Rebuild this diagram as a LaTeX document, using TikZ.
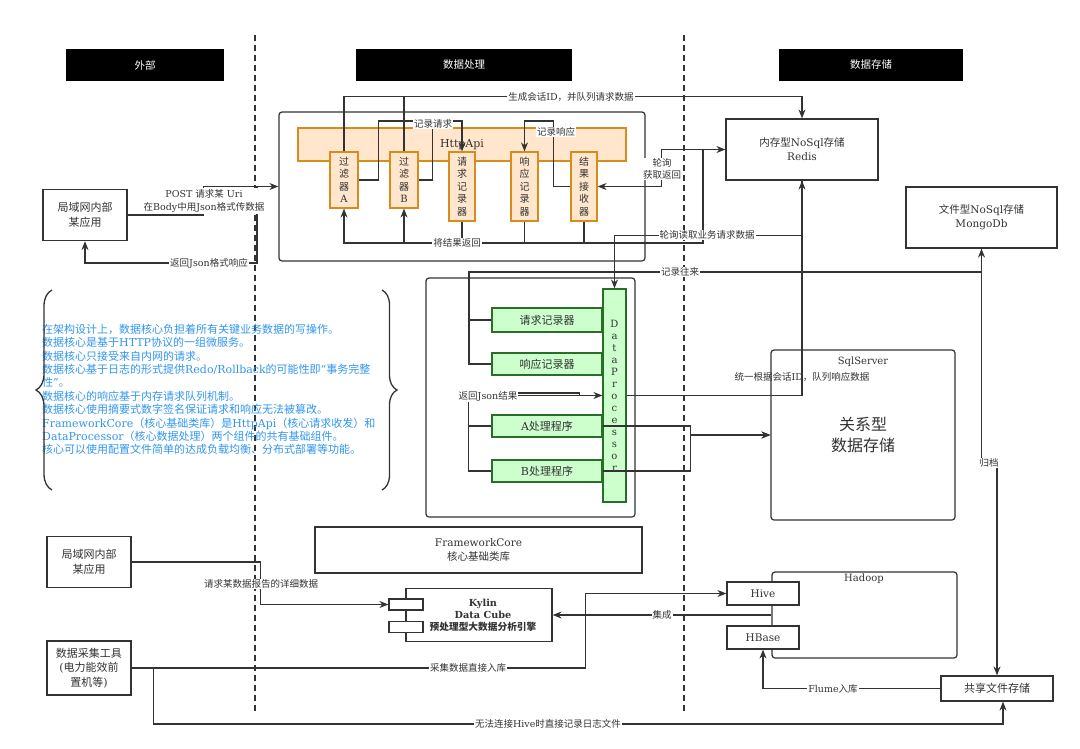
\documentclass[tikz,border=0pt]{standalone}
\usepackage{fontspec}
\setmainfont{DejaVu Serif}
\newfontfamily\cjkfont{Noto Sans CJK SC}
\usetikzlibrary{arrows.meta, positioning, decorations.pathreplacing}

% Chinese characters switch to the CJK family
\XeTeXinterchartokenstate=1
\newXeTeXintercharclass\cjkclass
\newcount\cjkcode
\def\setcjkrange#1#2{\cjkcode=#1\relax
  \loop\ifnum\cjkcode<#2\relax
    \XeTeXcharclass\cjkcode=\cjkclass
    \advance\cjkcode by 1
  \repeat}
\setcjkrange{"3000}{"3040}
\setcjkrange{"4E00}{"A000}
\setcjkrange{"FF00}{"FFF0}
\XeTeXinterchartoks 0 \cjkclass = {\cjkfont}
\XeTeXinterchartoks 4095 \cjkclass = {\cjkfont}
\XeTeXinterchartoks \cjkclass 0 = {\rmfamily}
\XeTeXinterchartoks \cjkclass 4095 = {\rmfamily}

\definecolor{ink}{RGB}{51,51,51}
\definecolor{orfill}{RGB}{255,230,204}
\definecolor{ordraw}{RGB}{215,140,30}
\definecolor{grfill}{RGB}{204,255,204}
\definecolor{grdraw}{RGB}{40,110,40}
\definecolor{note}{RGB}{50,150,240}

\begin{document}
\begin{tikzpicture}[x=1pt, y=-1pt,
    >={Stealth[length=9pt, width=7pt]},
    hdr/.style={fill=black, text=white, minimum height=32, inner sep=0pt, font=\fontsize{10.5}{12}\selectfont},
    box/.style={draw=ink, line width=1.2pt, fill=white, align=center, inner sep=1pt, text=ink, font=\fontsize{10.5}{14}\selectfont},
    grp/.style={box, rounded corners=3pt},
    obox/.style={box, draw=ordraw, fill=orfill, font=\fontsize{10}{12.5}\selectfont},
    gbox/.style={box, draw=grdraw, fill=grfill, minimum width=110, minimum height=22, font=\fontsize{11}{13}\selectfont},
    lbl/.style={fill=white, inner sep=1pt, text=ink, align=center, font=\fontsize{9.5}{12}\selectfont},
    wire/.style={draw=ink, line width=1.1pt},
    conn/.style={wire, ->},
    sep/.style={draw=ink, line width=1.2pt, dash pattern=on 6pt off 4pt}
]
    \useasboundingbox[fill=white] (0,0) rectangle (1080,748);

    % Lane separators and headers
    \draw[sep] (255,35) -- (255,712);
    \draw[sep] (684,35) -- (684,712);
    \node[hdr, minimum width=158] (outer) at (145,65) {外部};
    \node[hdr, minimum width=216] (proc) at (464,65) {数据处理};
    \node[hdr, minimum width=184] (store) at (871,65) {数据存储};

    % External side
    \node[box, minimum width=84, minimum height=51, font=\fontsize{11}{15}\selectfont] (app1) at (85,215) {局域网内部\\某应用};
    \node[box, minimum width=84, minimum height=51, font=\fontsize{11}{15}\selectfont] (app2) at (89,562) {局域网内部\\某应用};
    \node[box, minimum width=84, minimum height=54, font=\fontsize{11}{14.5}\selectfont] (coll) at (89,668) {数据采集工具\\(电力能效前\\置机等)};

    % HttpApi
    \node[grp, minimum width=366, minimum height=149] (httpgrp) at (462,186.5) {};
    \node[obox, minimum width=328, minimum height=33, font=\fontsize{11}{13}\selectfont] (httpapi) at (462,144.5) {HttpApi};
    \node[obox, minimum width=28, minimum height=56] (fA) at (344,180) {过\\滤\\器\\A};
    \node[obox, minimum width=28, minimum height=56] (fB) at (404,180) {过\\滤\\器\\B};
    \node[obox, minimum width=26, minimum height=69] (reqrec) at (462,186.5) {请\\求\\记\\录\\器};
    \node[obox, minimum width=27, minimum height=69] (resrec) at (524.5,186.5) {响\\应\\记\\录\\器};
    \node[obox, minimum width=26, minimum height=69] (recv) at (584,186.5) {结\\果\\接\\收\\器};

    % DataProcessor
    \node[grp, minimum width=209, minimum height=239] (dpgrp) at (530.5,397.5) {};
    \node[gbox, minimum height=24] (reqlog) at (547,320) {请求记录器};
    \node[gbox] (reslog) at (547,364) {响应记录器};
    \node[gbox] (aproc) at (547,426) {A处理程序};
    \node[gbox] (bproc) at (547,471) {B处理程序};
    \node[box, draw=grdraw, fill=grfill, minimum width=23, minimum height=213, font=\fontsize{10}{12}\selectfont] (dp) at (614.5,395.5) {D\\a\\t\\a\\P\\r\\o\\c\\e\\s\\s\\o\\r};

    % Notes
    \node[anchor=west, align=left, inner sep=0pt, text=note, font=\fontsize{11}{13.4}\selectfont] (notes) at (42,389.5) {在架构设计上，数据核心负担着所有关键业务数据的写操作。\\数据核心是基于HTTP协议的一组微服务。\\数据核心只接受来自内网的请求。\\数据核心基于日志的形式提供Redo/Rollback的可能性即“事务完整\\性”。\\数据核心的响应基于内存请求队列机制。\\数据核心使用摘要式数字签名保证请求和响应无法被篡改。\\FrameworkCore（核心基础类库）是HttpApi（核心请求收发）和\\DataProcessor（核心数据处理）两个组件的共有基础组件。\\核心可以使用配置文件简单的达成负载均衡、分布式部署等功能。};
    \draw[ink, line width=1.3pt, decorate, decoration={brace, amplitude=16pt}] (52,490) -- (52,290);
    \draw[ink, line width=1.3pt, decorate, decoration={brace, amplitude=15pt}] (382,290) -- (382,490);

    % Storage
    \node[box, minimum width=152, minimum height=61] (redis) at (802,149.5) {内存型NoSql存储\\Redis};
    \node[box, minimum width=151, minimum height=61] (mongo) at (981.5,217.5) {文件型NoSql存储\\MongoDb};
    \node[grp, minimum width=184, minimum height=170, font=\fontsize{16}{21}\selectfont] (sql) at (863,435) {关系型\\数据存储};
    \node[text=ink, font=\fontsize{10}{12}\selectfont] (sqltitle) at (863,362) {SqlServer};

    % Lower row
    \node[box, minimum width=327, minimum height=46] (core) at (478.5,550) {FrameworkCore\\核心基础类库};
    \node[box, minimum width=146, minimum height=53] (kylin) at (479,615) {};
    \node[box, minimum width=34, minimum height=11] (port1) at (406,604.5) {};
    \node[box, minimum width=34, minimum height=11] (port2) at (406,627) {};
    \node[align=center, text=ink, font=\bfseries\fontsize{9.7}{12}\selectfont] (kylintext) at (483,615) {Kylin\\Data Cube\\预处理型大数据分析引擎};
    \node[grp, minimum width=185, minimum height=86] (hadoop) at (864.5,615) {};
    \node[text=ink, font=\fontsize{10}{12}\selectfont] (hadooptitle) at (864,579) {Hadoop};
    \node[box, minimum width=72, minimum height=23] (hive) at (763,593.5) {Hive};
    \node[box, minimum width=72, minimum height=23] (hbase) at (763,637.5) {HBase};
    \node[box, minimum width=112, minimum height=25, font=\fontsize{11}{13}\selectfont] (share) at (997,688.5) {共享文件存储};

    % Request and reply
    \coordinate (ret) at (257,187);
    \draw[conn] (app1.east) -- ++(76,0) |- (httpgrp.west);
    \draw[conn] (ret) -- (257,263) -| (app1.south);
    \node[lbl, font=\fontsize{9.5}{13}\selectfont] (postlbl) at (204,201) {POST 请求某 Uri\\在Body中用Json格式传数据};
    \node[lbl] (retlbl) at (209,263) {返回Json格式响应};

    % Inside HttpApi
    \draw[conn] (fA.north) -- ++(0,-55) -| (redis.north);
    \draw[wire] (fB.north) -- ++(0,-55);
    \node[lbl] (sesslbl) at (571,97) {生成会话ID，并队列请求数据};
    \draw[conn] (fA.east) -- ++(20,0) -- ++(0,-59) -| (reqrec.north);
    \draw[wire] (fB.east) -- ++(14,0) -- ++(0,-59);
    \node[lbl] (reqlbl) at (433,124) {记录请求};
    \draw[conn] (recv.west) -- ++(-17,0) -- ++(0,-65.5) -| (resrec.north);
    \node[lbl] (reslbl) at (556,132) {记录响应};
    \draw[wire, <->] (redis.west) -- ++(-64,0) |- (recv.east);
    \node[lbl] (polllbl) at (662,169) {轮询\\获取返回};
    \coordinate (bus) at (703,243);
    \draw[wire] (redis.west) -| (bus) -- (recv.south |- bus);
    \draw[wire] (reqrec.south) -- (reqrec.south |- bus);
    \draw[wire] (resrec.south) -- (resrec.south |- bus);
    \draw[conn] (recv.south) -- (recv.south |- bus) -| (fA.south);
    \draw[conn] (fB.south |- bus) -- (fB.south);
    \node[lbl] (backlbl) at (457,243) {将结果返回};

    % DataProcessor links
    \draw[conn] (redis.south) -- ++(0,55) -| (dp.north);
    \node[lbl] (readlbl) at (707,235) {轮询读取业务请求数据};
    \draw[conn] (dp.east) -| (redis.south);
    \node[lbl, fill=none] (queuelbl) at (802,377) {统一根据会话ID，队列响应数据};
    \coordinate (rec) at (469,272);
    \draw[conn] (reqlog.west) -| (rec) -| (mongo.south);
    \draw[wire] (reslog.west) -| (rec);
    \node[lbl] (loglbl) at (680,272) {记录往来};
    \draw[conn] (mongo.south) -- ++(0,215) -| (share.north);
    \node[lbl] (archlbl) at (989,463) {归档};
    \draw[conn] (aproc.west) -- ++(-23,0) |- (dp.west);
    \draw[wire] (bproc.west) -- ++(-23,0) -- ++(0,-78) -- ++(111,0) -- ++(0,3);
    \node[lbl] (jsonlbl) at (488,396) {返回Json结果};
    \draw[conn] (aproc.east) -- ++(88,0) |- (sql.west);
    \draw[conn] (bproc.east) -- ++(88,0) |- (sql.west);

    % Analysis and collection
    \draw[conn] (app2.east) -- ++(129,0) |- (port1.west);
    \node[lbl] (reportlbl) at (261,584) {请求某数据报告的详细数据};
    \draw[conn] (coll.east) -- ++(454,0) |- (hive.west);
    \node[lbl] (collectlbl) at (468,668) {采集数据直接入库};
    \draw[conn] (coll.east) -- ++(22,0) -- ++(0,56) -| ([xshift=6pt]share.south);
    \node[lbl] (filelbl) at (548,724) {无法连接Hive时直接记录日志文件};
    \draw[conn] (hadoop.west) -- (kylin.east);
    \node[lbl] (joinlbl) at (662,615) {集成};
    \draw[conn] (share.west) -| (hbase.south);
    \node[lbl] (flumelbl) at (833,688.5) {Flume入库};
\end{tikzpicture}
\end{document}
